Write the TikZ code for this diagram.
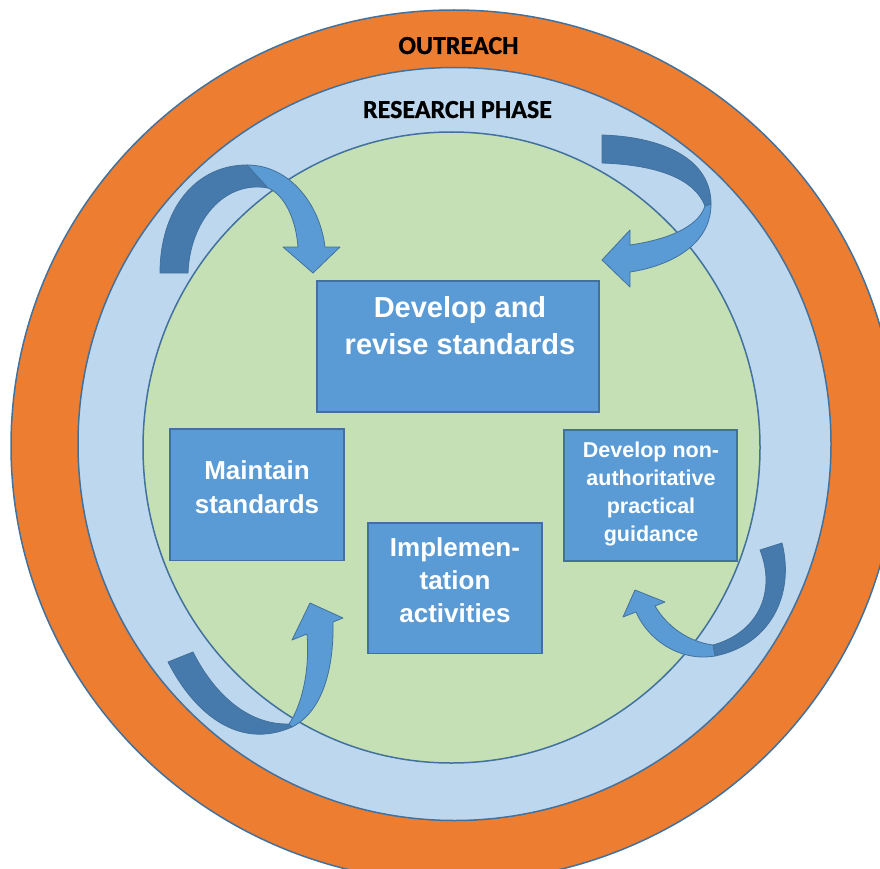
\documentclass[tikz,border=0pt]{standalone}
\usepackage{fontspec}
\setmainfont{Liberation Sans}
\newfontfamily\calfont{Carlito}[BoldFeatures={FakeBold=0.8}]
\definecolor{ringorange}{HTML}{ED7D31}
\definecolor{ringblue}{HTML}{BDD7EE}
\definecolor{ringgreen}{HTML}{C5E0B4}
\definecolor{boxblue}{HTML}{5B9BD5}
\definecolor{edgeblue}{HTML}{41719C}
\definecolor{arrowdark}{HTML}{4679AC}
\tikzset{
  ring/.style={draw=edgeblue, line width=1.5pt},
  box/.style={draw=edgeblue, fill=boxblue, line width=1.5pt, inner sep=0pt},
  boxtext/.style={text=white, align=center, inner sep=0pt},
  ringtext/.style={text=black, anchor=base, inner sep=0pt, font=\fontsize{26}{30}\selectfont\calfont\bfseries},
  arrdark/.style={fill=arrowdark, draw=edgeblue, line width=0.8pt, line join=round},
  arrlight/.style={fill=boxblue, draw=edgeblue, line width=0.8pt, line join=round}
}
\begin{document}
\begin{tikzpicture}[x=1pt,y=-1pt]
\useasboundingbox (0,0) rectangle (880,869);
\begin{scope}
\clip (0,0) rectangle (880,869);
\fill[white] (0,0) rectangle (880,869);
\draw[ring, fill=ringorange] (454,446) ellipse [x radius=443pt, y radius=436pt];
\draw[ring, fill=ringblue] (454.5,444) ellipse [x radius=376.5pt, y radius=376.5pt];
\draw[ring, fill=ringgreen] (451.5,447.5) ellipse [x radius=308.5pt, y radius=315.5pt];
\end{scope}

\node[ringtext] (outreach) at (458.5,54) {OUTREACH};
\node[ringtext] (research) at (457.5,118) {RESEARCH PHASE};

% boxes
\node[box, minimum width=282pt, minimum height=131pt] (dev) at (458,346.5) {};
\node[box, minimum width=174pt, minimum height=131.5pt] (maint) at (257,494.5) {};
\node[box, minimum width=174pt, minimum height=130.5pt] (impl) at (455,588) {};
\node[box, minimum width=173pt, minimum height=131pt] (guid) at (650.5,495.5) {};

\node[boxtext, font=\fontsize{29}{37}\selectfont\bfseries] (devT) at (460,326) {Develop and\\revise standards};
\node[boxtext, font=\fontsize{26}{34}\selectfont\bfseries] (maintT) at (257,487) {Maintain\\standards};
\node[boxtext, font=\fontsize{26}{33}\selectfont\bfseries] (implT) at (455,580) {Implemen-\\tation\\activities};
\node[boxtext, font=\fontsize{21.5}{28.3}\selectfont\bfseries] (guidT) at (651,494) {Develop non-\\authoritative\\practical\\guidance};

% arrow 1 (top left)
\draw[arrdark] (160,273) .. controls (160,210) and (195,165) .. (247,165)
  -- (268,188) .. controls (225,180) and (190,220) .. (188,273) -- cycle;
\draw[arrlight] (247,165) .. controls (290,165) and (320,205) .. (325,247)
  -- (340,247) -- (313,273) -- (283,247) -- (298,247)
  .. controls (296,220) and (285,195) .. (268,188) -- cycle;

% arrow 2 (top right)
\draw[arrdark] (602,135) .. controls (665,137) and (711,160) .. (711,204)
  -- (705,206) .. controls (695,180) and (660,165) .. (602,163) -- cycle;
\draw[arrlight] (711,204) .. controls (711,245) and (670,266) .. (630,272)
  -- (630,287) -- (602,260) -- (630,230) -- (630,245)
  .. controls (665,240) and (698,228) .. (705,206) -- cycle;

% arrow 3 (bottom left)
\draw[arrdark] (168,662) .. controls (195,715) and (240,750) .. (292,727)
  -- (289,724) .. controls (245,725) and (212,690) .. (193,652) -- cycle;
\draw[arrlight] (292,727) .. controls (322,712) and (334,670) .. (333,622)
  -- (343,618) -- (310,603) -- (292,640) -- (307,634)
  .. controls (310,670) and (302,705) .. (289,724) -- cycle;

% arrow 4 (bottom right)
\draw[arrdark] (782,543) .. controls (795,595) and (770,645) .. (715,656)
  -- (713,645) .. controls (760,632) and (776,590) .. (760,550) -- cycle;
\draw[arrlight] (715,656) .. controls (680,662) and (648,640) .. (636,612)
  -- (623,617) -- (635,590) -- (665,602) -- (655,606)
  .. controls (668,628) and (690,642) .. (713,645) -- cycle;
\end{tikzpicture}
\end{document}
